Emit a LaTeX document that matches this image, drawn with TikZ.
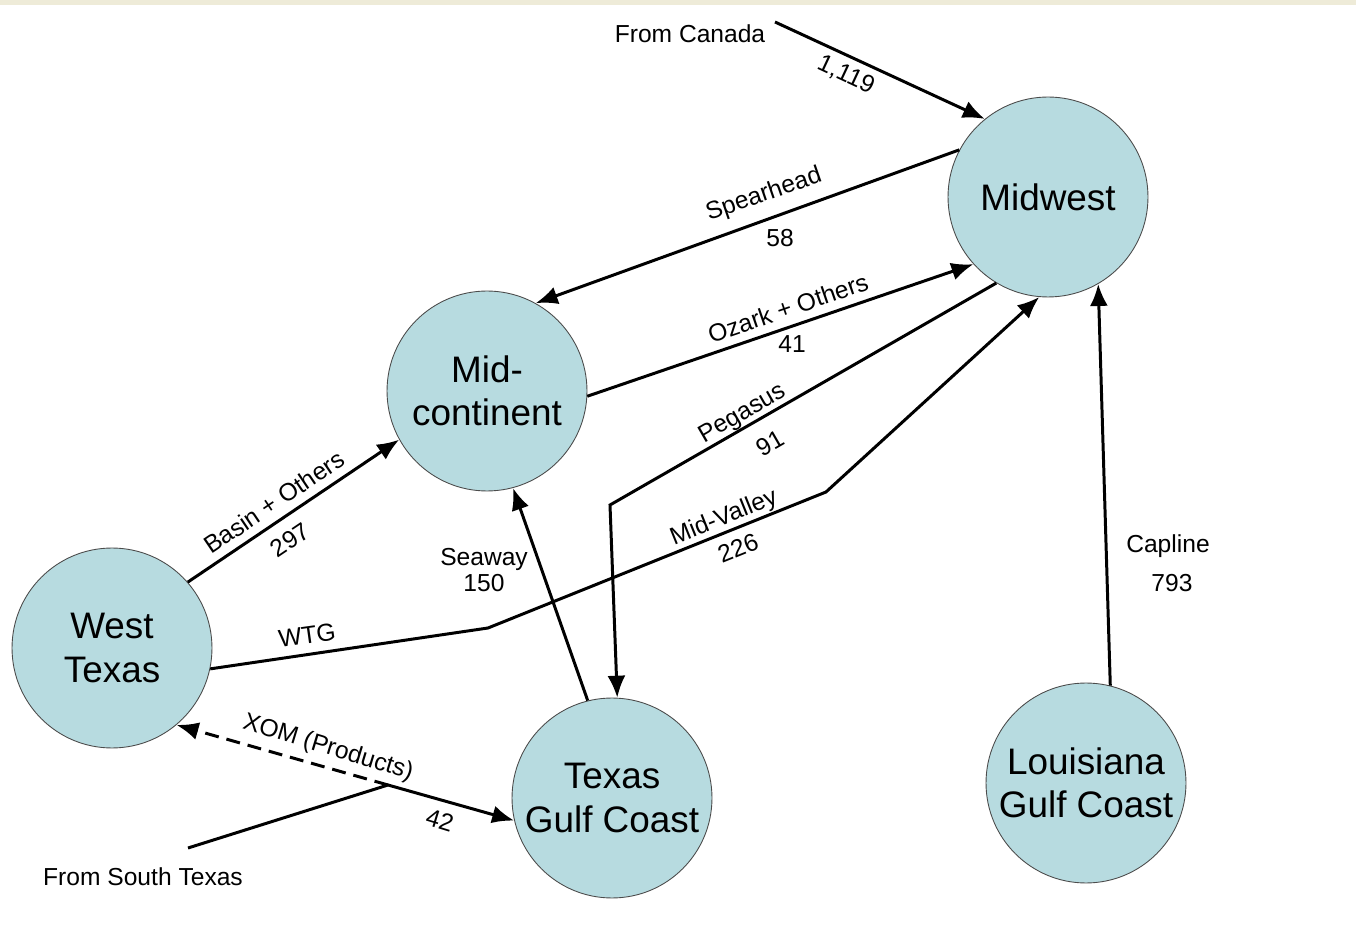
\documentclass[tikz,border=0pt]{standalone}
\usepackage{fontspec}
\setmainfont{Liberation Sans}
\usetikzlibrary{arrows.meta}
\definecolor{bleu}{RGB}{183,219,224}
\definecolor{beige}{RGB}{238,235,216}
\begin{document}
\begin{tikzpicture}[x=0.02cm, y=-0.02cm]
\tikzset{region/.style={draw=black!70, line width=0.5pt, fill=bleu, circle, minimum size=4cm, inner sep=0pt, align=center, font=\fontsize{21}{24.5}\selectfont}}
\tikzset{fleche/.style={line width=1.7pt, -{Latex[length=0.44cm, width=0.36cm]}}}
\tikzset{etiq/.style={inner sep=0pt, align=center, font=\fontsize{14}{16}\selectfont}}
\useasboundingbox (0,0) rectangle (1356,952);
\fill[beige] (0,0) rectangle (1356,5);
\node[region] (MW) at (1048,197) {Midwest};
\node[region] (MC) at (487,391) {Mid-\\continent};
\node[region] (WT) at (112,648) {West\\Texas};
\node[region] (TGC) at (612,798) {Texas\\Gulf Coast};
\node[region] (LGC) at (1086,783) {Louisiana\\Gulf Coast};
\node[etiq] (CAN) at (690,34) {From Canada};
\node[etiq] (STX) at (143,877) {From South Texas};
\coordinate (C0) at (775,22);
\coordinate (S0) at (188,848);
\coordinate (X1) at (388,785);
\coordinate (P1) at (610,505);
\coordinate (W1) at (488,628);
\coordinate (W2) at (826,492);
\draw[fleche] (C0) -- (MW.129);
\draw[fleche] (MW.152) -- (MC.61);
\draw[fleche] (MC.-3) -- (MW.222);
\draw[fleche] (MW.239) -- (P1) -- (TGC.87);
\draw[fleche] (WT.-12) -- (W1) -- (W2) -- (MW.265);
\draw[fleche] (TGC.104) -- (MC.285);
\draw[fleche] (WT.41) -- (MC.209);
\draw[fleche] (S0) -- (X1) -- (TGC.193);
\draw[fleche, dash pattern=on 0.28cm off 0.16cm] (X1) -- (WT.-50);
\draw[fleche] (LGC.76) -- (MW.300);
\node[etiq, rotate=-25] (L1) at (846,75) {1,119};
\node[etiq, rotate=19] (L2) at (764,195) {Spearhead};
\node[etiq] (L3) at (780,238) {58};
\node[etiq, rotate=19] (L4) at (788,308) {Ozark + Others};
\node[etiq] (L5) at (792,344) {41};
\node[etiq, rotate=30] (L6) at (743,414) {Pegasus};
\node[etiq, rotate=30] (L7) at (770,443) {91};
\node[etiq, rotate=22] (L8) at (724,518) {Mid-Valley};
\node[etiq, rotate=22] (L9) at (738,548) {226};
\node[etiq, rotate=34] (L10) at (274,502) {Basin + Others};
\node[etiq, rotate=34] (L11) at (290,540) {297};
\node[etiq, rotate=8] (L12) at (307,635) {WTG};
\node[etiq, font=\fontsize{14}{14.5}\selectfont] (L13) at (484,570) {Seaway\\150};
\node[etiq, rotate=-17] (L14) at (328,748) {XOM (Products)};
\node[etiq, rotate=-17] (L15) at (440,820) {42};
\node[etiq] (L16) at (1168,546) {Capline};
\node[etiq] (L17) at (1172,583) {793};
\end{tikzpicture}
\end{document}
